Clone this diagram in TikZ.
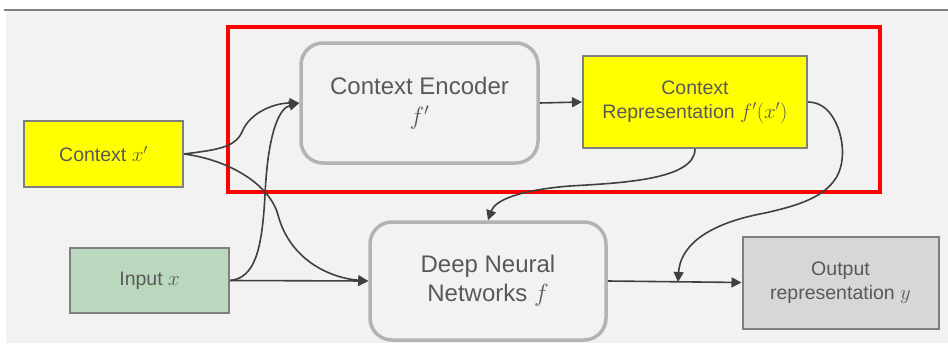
\documentclass[tikz,border=0pt]{standalone}
\usepackage{fontspec}
\setmainfont{Liberation Sans}
\usetikzlibrary{arrows.meta}
\definecolor{bgc}{HTML}{F2F2F2}
\definecolor{txt}{HTML}{595959}
\definecolor{bord}{HTML}{7F7F7F}
\definecolor{rbord}{HTML}{B3B3B3}
\definecolor{yel}{HTML}{FFFF00}
\definecolor{grn}{HTML}{B9D8BD}
\definecolor{outc}{HTML}{D7D7D7}
\definecolor{arr}{HTML}{404040}
\tikzset{
  sqbox/.style={draw=bord, line width=2pt, text=txt, align=center, inner sep=0pt,
    font=\fontsize{19.5}{24}\selectfont},
  rbox/.style={draw=rbord, line width=3.5pt, fill=bgc, rounded corners=22pt, text=txt,
    align=center, inner sep=0pt, font=\fontsize{24}{29}\selectfont},
  conn/.style={draw=arr, line width=1.6pt, -{Triangle[length=10pt,width=10pt]}},
}
\begin{document}
\begin{tikzpicture}[x=1pt,y=-1pt]
\useasboundingbox (0,0) rectangle (948,343);
\fill[white] (0,0) rectangle (948,343);
\fill[bgc] (6,11) rectangle (948,343);
\draw[bord, line width=2.5pt] (4,10) -- (948,10);
\draw[red, line width=4pt] (228,27) rectangle (880,192);

\node[sqbox, fill=yel, minimum width=159pt, minimum height=66pt] (ctx) at (103.5,154) {Context $x'$};
\node[sqbox, fill=grn, minimum width=159pt, minimum height=65pt] (inp) at (149.5,280.5) {Input $x$};
\node[rbox, minimum width=237pt, minimum height=120pt] (enc) at (419.5,103) {Context Encoder\\[1pt]$f'$};
\node[sqbox, fill=yel, minimum width=224pt, minimum height=92pt] (cr) at (695,102) {Context\\Representation $f'(x')$};
\node[rbox, minimum width=236pt, minimum height=118pt] (dnn) at (488,281) {Deep Neural\\Networks $f$};
\node[sqbox, fill=outc, minimum width=196pt, minimum height=92pt] (out) at (840.5,282.5) {Output\\representation $y$};

\coordinate (join) at (678,282);

\draw[conn] (ctx.east) .. controls (215,150) and (235,148) .. (242,132) .. controls (250,112) and (275,103) .. (enc.west);
\draw[conn] (ctx.east) .. controls (230,160) and (270,185) .. (278,215) .. controls (290,260) and (330,278) .. (dnn.west);
\draw[conn] (inp.east) .. controls (255,278) and (262,250) .. (265,195) .. controls (268,130) and (280,108) .. (enc.west);
\draw[conn] (inp.east) -- (dnn.west);
\draw[conn] (enc.east) -- (cr.west);
\draw[conn] (cr.south) .. controls (695,180) and (620,183) .. (570,186) .. controls (520,190) and (495,200) .. (dnn.north);
\draw[conn] (dnn.east) -- (out.west);
\draw[conn] (cr.east) .. controls (835,102) and (845,140) .. (842,160) .. controls (838,195) and (800,205) .. (765,213) .. controls (700,225) and (680,250) .. (join);
\end{tikzpicture}
\end{document}
